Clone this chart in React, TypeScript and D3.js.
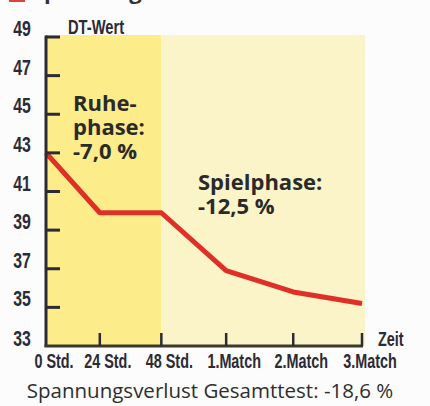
import * as d3 from "d3";

const timeLabels = ["0 Std.", "24 Std.", "48 Std.", "1.Match", "2.Match", "3.Match"];
const dtValues = [43, 39.9, 39.9, 36.9, 35.8, 35.2];
const yTicks = [35, 37, 39, 41, 43, 45, 47, 49];
const yLabels = [33, 35, 37, 39, 41, 43, 45, 47, 49];
const restPhase = ["Ruhe-", "phase:", "-7,0 %"];
const playPhase = ["Spielphase:", "-12,5 %"];
const footer = "Spannungsverlust Gesamttest: -18,6 %";

const W = 430;
const H = 406;
const ink = "#2b2a35";
const narrow = "'Liberation Sans', Arial, sans-serif";

// condensed bold label, squeezed horizontally
function Narrow({ x, y, size, sx = 0.74, anchor = "start", children }: any) {
  return (
    <text
      transform={`translate(${x},${y}) scale(${sx},1)`}
      fontFamily={narrow}
      fontWeight={700}
      fontSize={size}
      fill={ink}
      textAnchor={anchor}
    >
      {children}
    </text>
  );
}

export default function App() {
  const left = 46;
  const right = 362;
  const top = 37;
  const bottom = 346;

  // categories are not evenly spaced in the original, a slight power curve fits
  const xi = d3.scalePow().exponent(1.1).domain([0, timeLabels.length - 1]).range([left, right]);
  const x = (i: number) => xi(i);
  const y = d3.scaleLinear().domain([33, 49]).range([bottom, top]);

  const line = d3
    .line<number>()
    .x((_, i) => x(i))
    .y((d) => y(d));

  return (
    <svg
      width={W}
      height={H}
      style={{ position: "absolute", left: 0, top: 0, background: "#fcfcfc" }}
    >
      {/* cut-off title */}
      <rect x={9} y={-10} width={16} height={12} fill="#d8453a" />
      <text x={32} y={-1} fontFamily="'Open Sans', sans-serif" fontWeight={700} fontSize={22} fill="#333">
        Spannungsverlust
      </text>

      {/* phase backgrounds */}
      <rect x={left} y={y(49) - 2} width={x(2) - left} height={bottom - y(49) + 2} fill="#fcec8a" />
      <rect x={x(2)} y={y(49) - 2} width={right + 3 - x(2)} height={bottom - y(49) + 2} fill="#fbf4c9" />

      {/* data line */}
      <path
        d={line(dtValues) ?? ""}
        fill="none"
        stroke="#df2f27"
        strokeWidth={5}
        strokeLinejoin="round"
      />

      {/* y axis */}
      <line x1={left} x2={left} y1={top - 1.5} y2={bottom + 1} stroke={ink} strokeWidth={3} />
      {yTicks.map((t) => (
        <line key={t} x1={left} x2={left + 14} y1={y(t)} y2={y(t)} stroke={ink} strokeWidth={3} />
      ))}
      {yLabels.map((t) => (
        <Narrow key={t} x={22} y={y(t) + (t === 33 ? 0 : -1)} size={22} sx={0.72} anchor="middle">
          {t}
        </Narrow>
      ))}
      <Narrow x={68} y={34} size={21} sx={0.7}>
        DT-Wert
      </Narrow>

      {/* x axis */}
      <line x1={left - 1.5} x2={right + 1} y1={bottom} y2={bottom} stroke="#3a3a2c" strokeWidth={3} />
      {timeLabels.map((t, i) =>
        i === 0 ? null : (
          <line key={t} x1={x(i)} x2={x(i)} y1={bottom} y2={bottom - 13} stroke={ink} strokeWidth={2.5} />
        ),
      )}
      {timeLabels.map((t, i) => (
        <Narrow key={t} x={x(i) + 8} y={368} size={20} sx={0.72} anchor="middle">
          {t}
        </Narrow>
      ))}
      <Narrow x={378} y={346} size={20} sx={0.72}>
        Zeit
      </Narrow>

      {/* phase annotations */}
      {restPhase.map((s, i) => (
        <text
          key={s}
          x={73}
          y={111 + i * 24}
          fontFamily="'Open Sans', sans-serif"
          fontWeight={700}
          fontSize={22}
          fill="#2a2a2a"
        >
          {s}
        </text>
      ))}
      {playPhase.map((s, i) => (
        <text
          key={s}
          x={198}
          y={190 + i * 24}
          fontFamily="'Open Sans', sans-serif"
          fontWeight={700}
          fontSize={22}
          fill="#2a2a2a"
        >
          {s}
        </text>
      ))}

      <text
        x={210}
        y={398}
        textAnchor="middle"
        fontFamily="'Open Sans', sans-serif"
        fontSize={20.5}
        fill="#2e2e2e"
      >
        {footer}
      </text>
    </svg>
  );
}
